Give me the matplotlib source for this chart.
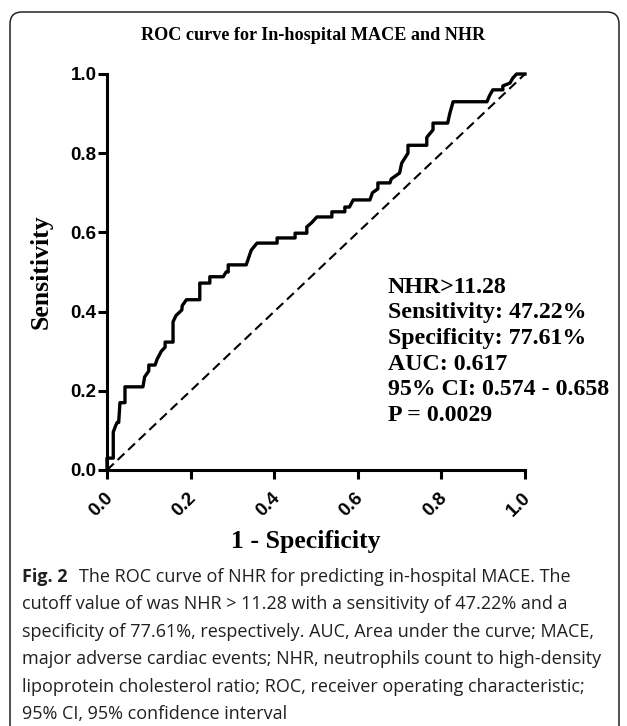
import matplotlib
matplotlib.use('Agg')
import matplotlib.pyplot as plt
from matplotlib.patches import FancyBboxPatch
from matplotlib.transforms import IdentityTransform, ScaledTranslation

# ROC curve vertices (1 - specificity, sensitivity)
fpr = [0.0, 0.0, 0.015, 0.015, 0.02, 0.024, 0.028, 0.031, 0.043, 0.043, 0.086, 0.09,
       0.10, 0.10, 0.115, 0.12, 0.13, 0.139, 0.139, 0.158, 0.158, 0.165, 0.179, 0.18,
       0.19, 0.222, 0.222, 0.246, 0.246, 0.278, 0.285, 0.29, 0.29, 0.333, 0.337, 0.345,
       0.359, 0.407, 0.407, 0.45, 0.45, 0.478, 0.478, 0.49, 0.502, 0.538, 0.538, 0.569,
       0.569, 0.58, 0.589, 0.629, 0.635, 0.648, 0.648, 0.677, 0.68, 0.70, 0.705, 0.72,
       0.72, 0.765, 0.765, 0.78, 0.78, 0.815, 0.82, 0.828, 0.909, 0.915, 0.923, 0.947,
       0.947, 0.964, 0.971, 0.98, 1.0]
tpr = [0.0, 0.03, 0.03, 0.096, 0.11, 0.12, 0.12, 0.17, 0.17, 0.21, 0.21, 0.235,
       0.25, 0.265, 0.265, 0.28, 0.30, 0.31, 0.323, 0.323, 0.374, 0.39, 0.404, 0.415,
       0.43, 0.43, 0.472, 0.472, 0.488, 0.488, 0.50, 0.50, 0.518, 0.518, 0.53, 0.555,
       0.573, 0.573, 0.586, 0.586, 0.598, 0.598, 0.614, 0.625, 0.639, 0.639, 0.652, 0.652,
       0.664, 0.664, 0.682, 0.682, 0.70, 0.71, 0.725, 0.725, 0.735, 0.75, 0.775, 0.80,
       0.82, 0.82, 0.84, 0.859, 0.876, 0.876, 0.90, 0.93, 0.93, 0.945, 0.96, 0.96,
       0.97, 0.977, 0.99, 1.0, 1.0]

ticks = [0.0, 0.2, 0.4, 0.6, 0.8, 1.0]
tick_labels = ['0.0', '0.2', '0.4', '0.6', '0.8', '1.0']

stats_lines = ['NHR>11.28', 'Sensitivity: 47.22%', 'Specificity: 77.61%',
               'AUC: 0.617', '95% CI: 0.574 - 0.658', 'P = 0.0029']

caption_lines = [
    'The ROC curve of NHR for predicting in-hospital MACE. The',
    'cutoff value of was NHR > 11.28 with a sensitivity of 47.22% and a',
    'specificity of 77.61%, respectively. AUC, Area under the curve; MACE,',
    'major adverse cardiac events; NHR, neutrophils count to high-density',
    'lipoprotein cholesterol ratio; ROC, receiver operating characteristic;',
    '95% CI, 95% confidence interval',
]

W, H = 627, 726
fig = plt.figure(figsize=(W / 100, H / 100), dpi=100)
fig.patch.set_facecolor('white')

# rounded frame around the figure
frame = FancyBboxPatch((10, -20), 609, H - 12 + 20, boxstyle='round,pad=0,rounding_size=12',
                       transform=IdentityTransform(), facecolor='none',
                       edgecolor='#222222', linewidth=1.1)
fig.patches.append(frame)

ax = fig.add_axes([107 / W, 1 - 470 / H, 418 / W, 396 / H])
ax.plot(fpr, tpr, color='black', linewidth=2.4, clip_on=False, zorder=3)
ax.plot([0, 1], [0, 1], color='black', linewidth=1.5, linestyle=(0, (4.5, 2.5)), clip_on=False)

ax.set_xlim(0, 1)
ax.set_ylim(0, 1)
for s in ['top', 'right']:
    ax.spines[s].set_visible(False)
for s in ['left', 'bottom']:
    ax.spines[s].set_linewidth(2.2)

ax.set_xticks(ticks)
ax.set_yticks(ticks)
ax.set_yticklabels(tick_labels, fontfamily='Liberation Sans', fontweight='bold', fontsize=13.5)
ax.set_xticklabels(tick_labels, fontfamily='Liberation Sans', fontweight='bold', fontsize=13.5,
                   rotation=45, ha='right', va='center', rotation_mode='anchor')
ax.tick_params(axis='y', length=6.5, width=2.2, pad=1)
ax.tick_params(axis='x', length=6.5, width=2.2, pad=12)
shift = ScaledTranslation(3 / 100, 0, fig.dpi_scale_trans)
for lab in ax.get_xticklabels():
    lab.set_transform(lab.get_transform() + shift)

ax.set_xlabel('1 - Specificity', fontfamily='Liberation Serif', fontweight='bold', fontsize=18.5)
ax.xaxis.set_label_coords(0.475, -0.152)
ax.set_ylabel('Sensitivity', fontfamily='Liberation Serif', fontweight='bold', fontsize=18.5)
ax.yaxis.set_label_coords(-0.13, 0.5)

fig.text(313 / W, 1 - 36 / H, 'ROC curve for In-hospital MACE and NHR',
         fontfamily='Liberation Serif', fontweight='bold', fontsize=13.1,
         ha='center', va='center')

ax.text(0.672, 0.488, '\n'.join(stats_lines), transform=ax.transAxes,
        fontfamily='Liberation Serif', fontweight='bold', fontsize=17.2,
        ha='left', va='top', linespacing=1.29)

# caption
cap_font = 'Open Sans'
cap_size = 13.0
y0 = 577
for i, line in enumerate(caption_lines):
    y = 1 - (y0 + i * 27.4) / H
    if i == 0:
        fig.text(22 / W, y, 'Fig. 2', fontfamily=cap_font, fontweight='bold',
                 fontsize=cap_size, ha='left', va='center', color='#231f20')
        fig.text(79 / W, y, line, fontfamily=cap_font, fontsize=cap_size, ha='left',
                 va='center', color='#231f20')
    else:
        fig.text(22 / W, y, line, fontfamily=cap_font, fontsize=cap_size, ha='left',
                 va='center', color='#231f20')

fig.savefig('out.png', dpi=100)
